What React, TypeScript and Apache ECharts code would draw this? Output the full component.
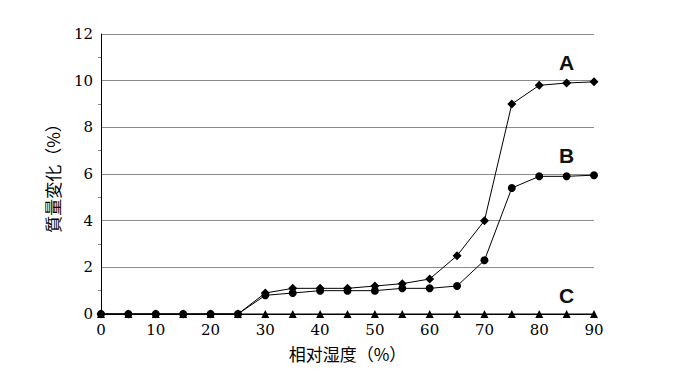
import React, { useEffect, useRef } from "react";
import * as echarts from "echarts";

const humidity = [0, 5, 10, 15, 20, 25, 30, 35, 40, 45, 50, 55, 60, 65, 70, 75, 80, 85, 90];
const seriesA = [0, 0, 0, 0, 0, 0, 0.9, 1.1, 1.1, 1.1, 1.2, 1.3, 1.5, 2.5, 4.0, 9.0, 9.8, 9.9, 9.95];
const seriesB = [0, 0, 0, 0, 0, 0, 0.8, 0.9, 1.0, 1.0, 1.0, 1.1, 1.1, 1.2, 2.3, 5.4, 5.9, 5.9, 5.95];
const seriesC = [0, 0, 0, 0, 0, 0, 0, 0, 0, 0, 0, 0, 0, 0, 0, 0, 0, 0, 0];
const seriesNames = ["A", "B", "C"];
const yTicks = [0, 2, 4, 6, 8, 10, 12];
const xTicks = [0, 10, 20, 30, 40, 50, 60, 70, 80, 90];

const serifFont = "DejaVu Serif";
const cjkFont = "Noto Sans CJK JP";

export default function App() {
  const ref = useRef<HTMLDivElement>(null);
  useEffect(() => {
    if (!ref.current) return;
    const chart = echarts.init(ref.current, undefined, { renderer: "svg" });
    const labelIdx = 17;
    const mk = (name: string, vals: number[], symbol: string, size: number, dist: number) => ({
      name,
      type: "line",
      data: humidity.map((x, i) => ({
        value: [x, vals[i]],
        label:
          i === labelIdx
            ? {
                show: true,
                formatter: name,
                position: "top",
                distance: dist,
                color: "#111",
                fontSize: 21,
                fontWeight: "bold",
                fontFamily: "'Liberation Sans Narrow', 'Liberation Sans', sans-serif",
              }
            : { show: false },
      })),
      symbol,
      symbolSize: size,
      showAllSymbol: true,
      lineStyle: { color: "#000", width: 1 },
      itemStyle: { color: "#000" },
      z: 3,
    });
    chart.setOption({
      animation: false,
      textStyle: { fontFamily: serifFont },
      grid: { left: 93, right: 82, top: 26, bottom: 69 },
      xAxis: {
        type: "value",
        min: 0,
        max: 90,
        interval: 10,
        name: "相对湿度（%）",
        nameLocation: "middle",
        nameGap: 31,
        nameTextStyle: { fontFamily: cjkFont, fontSize: 17, color: "#000" },
        axisLine: { show: true, lineStyle: { color: "#000", width: 1 } },
        axisTick: { show: false },
        splitLine: { show: false },
        axisLabel: {
          color: "#000",
          fontFamily: serifFont,
          fontSize: 15,
          margin: 8,
          formatter: (v: number) => (xTicks.includes(v) ? String(v) : ""),
        },
      },
      yAxis: {
        type: "value",
        min: 0,
        max: 12,
        interval: 2,
        name: "質量変化（%）",
        nameLocation: "middle",
        nameGap: 40,
        nameTextStyle: { fontFamily: cjkFont, fontSize: 17, color: "#000" },
        axisLine: { show: true, lineStyle: { color: "#000", width: 1 } },
        axisTick: { show: false },
        minorTick: { show: true, splitNumber: 2, length: 3, lineStyle: { color: "#888" } },
        splitLine: { show: true, lineStyle: { color: "#8a8a8a", width: 1 } },
        axisLabel: {
          color: "#000",
          fontFamily: serifFont,
          fontSize: 15,
          margin: 8,
          formatter: (v: number) => (yTicks.includes(v) ? String(v) : ""),
        },
      },
      series: [
        mk(seriesNames[2], seriesC, "triangle", 8, 4),
        mk(seriesNames[0], seriesA, "diamond", 9, 6),
        mk(seriesNames[1], seriesB, "circle", 8, 6),
      ],
    });
    return () => chart.dispose();
  }, []);
  return <div ref={ref} style={{ width: 668, height: 375 }} />;
}
